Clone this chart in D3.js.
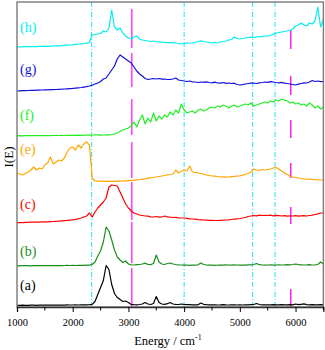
<!DOCTYPE html>
<html lang="en">

<head>
    <meta charset="UTF-8">
    <title>I(E) spectra</title>
    <script src="https://cdn.jsdelivr.net/npm/d3@7"></script>
    <style>
        body { margin: 0; background: #fff; }
        svg { display: block; font-family: "Liberation Serif", "Times New Roman", serif; }
    </style>
</head>

<body>
    <div id="chart"></div>
    <script>
        // energy grid, cm-1
        var energy = d3.range(1000, 6501, 50);

        var xTicks = [1000, 2000, 3000, 4000, 5000, 6000];
        var xMinor = [1500, 2500, 3500, 4500, 5500, 6500];

        // dash-dot reference lines and magenta markers (cm-1)
        var cyanLines = [2340, 4000, 5230, 5632];
        var magentaMain = 3060;
        var magentaShort = 5914;

        // intensities, one value per grid point
        var specA = [0.2,0.1,0.3,0.2,0.2,0.4,0.3,0.2,0.3,0.4,
            0.3,0.4,0.3,0.5,0.4,0.3,0.5,0.4,0.6,0.5,
            0.5,0.6,0.5,0.7,0.6,0.7,0.8,1.2,4,11,
            18,25,40,36,21,12,8,6,4,4.5,
            3,1,0.8,0.7,1,1.5,3,1.5,1,2,
            9,3,1.5,1.2,1.8,3,1.5,1.2,1,1.5,
            1,0.8,0.8,0.7,0.6,0.7,2.5,1.2,0.8,0.7,
            0.6,0.7,0.5,0.6,0.8,0.6,0.5,0.7,0.6,0.5,
            0.6,0.5,0.7,0.6,0.8,1,2,1,0.7,0.6,
            0.7,0.6,0.8,0.7,0.6,0.8,0.7,0.6,0.9,0.7,
            1.5,0.8,1.2,1.6,0.8,0.7,0.9,0.6,0.7,0.8,
            0.6];

        var specB = [0.3,0.2,0.4,0.3,0.3,0.2,0.4,0.3,0.4,0.3,
            0.4,0.3,0.4,0.5,0.4,0.5,0.4,0.5,0.6,0.5,
            0.6,0.5,0.7,0.6,0.7,0.8,0.9,1.5,4,10,
            15,24,39,35,26,16,9,6,3.5,5,
            2,1.2,1,1.3,1.5,2,2.8,1.6,1.4,2.5,
            11,4,2,1.5,2.5,3,2,1.5,1.2,1,
            0.8,0.9,0.7,0.8,0.9,1.2,3,1.5,1,0.8,
            0.9,0.7,0.8,1,0.9,1.2,1,0.8,1.1,1,
            0.9,1,0.8,1.1,1.2,1.5,2.5,1.3,1,0.9,
            1,1.1,0.9,1,1.2,1,1.1,1.3,1.2,1.5,
            2,1.4,1.2,1,1.1,1.3,1,1.2,1.5,4,
            2];

        var specC = [0.3,0.5,0.4,0.6,0.7,0.8,0.9,1,0.9,1.1,
            1.2,1.1,1.4,1.5,1.7,1.9,2.2,2.4,2.6,2.9,
            3.2,3.6,4.2,5,6,7,10,6,11,15,
            18,21,25,36,38,37.5,37,31,25,19,
            15,12,10,9,8,7.5,7,6.8,6.2,6,
            6.5,5.8,6,7,6.2,5.8,5.5,5.6,5.2,5,
            5,4.6,4.2,4,3.8,3.4,3.2,3,2.9,2.7,
            2.6,2.5,2.5,2.7,2.8,3,3.2,3.5,3.8,4.2,
            4.5,5,5.5,6.5,7,7.5,7.2,7.8,7.5,7.6,
            7.5,7.8,7.2,7.6,7.4,7,7.3,6.8,7.2,7,
            7.3,6.9,7.1,7.3,7,7.5,7.8,8.5,9.2,10,
            10];

        var specE = [9,8,7,8.5,10,12,15,12,14,13,
            17,19,25,18,20,22,21,24,30,34,
            35,32,37,34,38,40,37,4,1,0.8,
            0.8,0.7,0.6,0.8,0.7,0.6,0.8,0.9,1,1.2,
            1.4,1.6,1.8,2.2,2.5,2.8,3.2,3.8,4.2,4.5,
            5,5.5,6,6.5,7.2,7.5,8,12,9,10.5,
            12,11,16,10,9.5,9,8.5,8,7,6.5,
            6,5.8,5.5,5,5.2,4.8,5,5.3,5.6,6,
            6.2,6.8,7.5,8.5,10,13,12,11.5,12.5,12,
            12.5,13,14,14.5,13,11,9,7.5,6,5,
            4.5,4,3.5,3.2,3,2.8,2.5,2.3,2.2,2,
            2];

        var specF = [0.2,0.3,0.2,0.3,0.4,0.3,0.4,0.3,0.5,0.4,
            0.4,0.5,0.4,0.5,0.6,0.5,0.6,0.5,0.6,0.7,
            0.6,0.7,0.8,0.7,0.8,0.9,0.8,1,1.1,1.2,
            0.9,1,1.1,1.2,1.5,2,3,4.5,6,7,
            8,10,14,9,16,21,12,18,14,23,
            15,20,17,21,19,24,21,26,23,32,
            26,23,24,25,23,26,27,25,26,28,
            29,28,30,29,31,30,28,30,31,29,
            30,31,32,31,33,30,31,32,33,34,
            33,35,34,36,35,37,36,35,33,34,
            32,33,31,32,30,33,31,28,30,27,
            29];

        var specG = [0,0.2,0.3,0.4,0.5,0.6,0.7,0.8,0.9,1,
            1.1,1.2,1.3,1.4,1.5,1.7,1.8,2,2.2,2.4,
            2.6,2.9,3.2,3.5,3.9,4.3,5,5.8,7,8,
            9.5,12,13,17,21,25,32,36,34,32,
            30,28,24,20,17,15,12.5,11.5,12,12.5,
            12,12.5,11.8,12,11.5,11.7,12,13,11,10.5,
            10,9.5,10,9.2,9,8.5,9,8.7,9.2,8.5,
            8.2,8.8,8,7.8,8.5,7.6,8,7.5,7.8,6.5,
            6,6.3,7,7.5,7.8,8,7.5,8.2,8.5,9,
            8.6,9.3,9,8.5,8.2,8.6,7.8,7.5,7,6.5,
            6,6.8,7.5,8.2,8,9,10.5,9.5,10,9.3,
            9.5];

        var specH = [0,0.2,0.1,0.3,0.4,0.3,0.5,0.4,0.6,0.7,
            0.8,0.7,0.9,1,1.2,1.1,1.3,1.6,1.8,2,
            2.2,2.6,3,3.2,3.5,3.8,4.5,12,12.5,13,
            13.5,16,15,19,37,20,17,19,14,11,
            9,8,10,11,8,7,6.5,6,5.5,6,
            5.5,5,4.8,4.5,4.3,4.4,4.2,4,3.5,3,
            3.5,3.8,4,4.2,4.5,5.5,6.2,5.5,5,4.5,
            4,4.5,4,5,5.5,6,7,7.5,10,8.5,
            8,8.5,9,9.5,9.8,9.5,10,10.5,10.3,11,
            11,11.5,13,14,14.5,15,15.5,16,16.5,18,
            21,22,24,22,21,24,23,26,40,20,
            28];

        // offsets / colours / label & marker placement (y units)
        var series = [
            { key: "(a)", v: specA, off: 1.5, color: "#000000", ly: 17,  main: [0, 39],    mark: [0, 18] },
            { key: "(b)", v: specB, off: 41,  color: "#1c8c1c", ly: 51,  main: [44, 85],   mark: null },
            { key: "(c)", v: specC, off: 84,  color: "#ff0000", ly: 98,  main: [87, 125],  mark: [83, 100] },
            { key: "(e)", v: specE, off: 125, color: "#ffa500", ly: 153, main: [129, 165], mark: [129, 144] },
            { key: "(f)", v: specF, off: 171, color: "#22ee22", ly: 187, main: [172, 208], mark: [169, 187] },
            { key: "(g)", v: specG, off: 216, color: "#1010e0", ly: 233, main: [220, 254], mark: [212, 231] },
            { key: "(h)", v: specH, off: 260, color: "#00eeee", ly: 275, main: [259, 298], mark: [258, 277] }
        ];

        var w = 325, h = 350;
        var pl = 17, pr = 323.4, pt = 2, pb = 307;

        var x = d3.scaleLinear().domain([1000, 6500]).range([pl, pr]);
        var y = d3.scaleLinear().domain([0, 305]).range([pb, pt]);

        var svg = d3.select("#chart").append("svg")
            .attr("width", w)
            .attr("height", h);

        //reference lines------------------------
        svg.selectAll(".cyan").data(cyanLines).enter()
            .append("line")
            .attr("x1", function(d) { return x(d); })
            .attr("x2", function(d) { return x(d); })
            .attr("y1", pt)
            .attr("y2", pb)
            .attr("stroke", "#22e0f0")
            .attr("stroke-width", 1)
            .attr("stroke-dasharray", "5,2,1,2");

        svg.selectAll(".mmain").data(series).enter()
            .append("line")
            .attr("x1", x(magentaMain))
            .attr("x2", x(magentaMain))
            .attr("y1", function(d) { return y(d.main[0]); })
            .attr("y2", function(d) { return y(d.main[1]); })
            .attr("stroke", "#ff44ff")
            .attr("stroke-width", 1.6);

        svg.selectAll(".mshort").data(series.filter(function(d) { return d.mark; })).enter()
            .append("line")
            .attr("x1", x(magentaShort))
            .attr("x2", x(magentaShort))
            .attr("y1", function(d) { return y(d.mark[0]); })
            .attr("y2", function(d) { return y(d.mark[1]); })
            .attr("stroke", "#ff22ee")
            .attr("stroke-width", 1.5);

        //spectra--------------------------------
        var line = d3.line()
            .x(function(d, i) { return x(energy[i]); })
            .y(function(d) { return y(d); });

        svg.selectAll(".spec").data(series).enter()
            .append("path")
            .attr("d", function(s) {
                return line(s.v.map(function(v) { return v + s.off; }));
            })
            .attr("fill", "none")
            .attr("stroke", function(s) { return s.color; })
            .attr("stroke-width", 1.2)
            .attr("stroke-linejoin", "round");

        svg.selectAll(".lab").data(series).enter()
            .append("text")
            .attr("x", 20)
            .attr("y", function(s) { return y(s.ly); })
            .attr("fill", function(s) { return s.color; })
            .attr("font-size", 14)
            .text(function(s) { return s.key; });

        //frame & axis---------------------------
        svg.append("rect")
            .attr("x", pl)
            .attr("y", pt)
            .attr("width", pr - pl)
            .attr("height", pb - pt)
            .attr("fill", "none")
            .attr("stroke", "#7a7a7a")
            .attr("stroke-width", 1.4);

        var ax = svg.append("g")
            .attr("transform", "translate(0," + pb + ")")
            .call(d3.axisBottom(x).tickValues(xTicks).tickSize(5).tickPadding(7)
                .tickFormat(d3.format("d")));
        ax.select(".domain").attr("stroke", "#333").attr("stroke-width", 1.3);
        ax.selectAll("text").attr("font-family", "Liberation Serif").attr("font-size", 10.5).attr("fill", "#000");

        svg.append("g").selectAll("line").data(xMinor).enter()
            .append("line")
            .attr("x1", function(d) { return x(d); })
            .attr("x2", function(d) { return x(d); })
            .attr("y1", pb)
            .attr("y2", pb + 3.5)
            .attr("stroke", "#000");

        var title = svg.append("text")
            .attr("x", 168)
            .attr("y", 345)
            .attr("text-anchor", "middle")
            .attr("font-size", 12.5)
            .attr("fill", "#000");
        title.append("tspan").text("Energy / cm");
        title.append("tspan").attr("dy", -5).attr("font-size", 8).text("-1");

        svg.append("text")
            .attr("transform", "translate(13,157) rotate(-90)")
            .attr("text-anchor", "middle")
            .attr("font-size", 13)
            .attr("fill", "#000")
            .text("I(E)");
    </script>
</body>

</html>
